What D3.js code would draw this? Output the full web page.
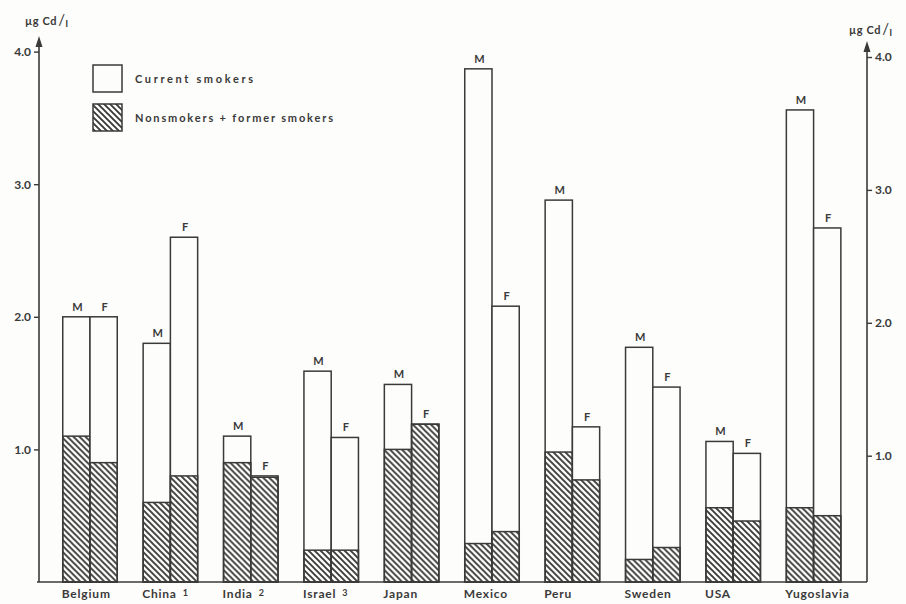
<!DOCTYPE html>
<html>
<head>
<meta charset="utf-8">
<script src="https://cdn.jsdelivr.net/npm/d3@7"></script>
<style>
  html, body { margin: 0; padding: 0; background: #fdfdfb; }
  svg { display: block; }
  text { font-family: Lato, "Open Sans", sans-serif; font-weight: 700; fill: #3a3a3a; }
</style>
</head>
<body>
<script>
// ---- data (µg Cd / l) ----
const countries = ["Belgium", "China", "India", "Israel", "Japan", "Mexico", "Peru", "Sweden", "USA", "Yugoslavia"];
const footnotes = ["", "1", "2", "3", "", "", "", "", "", ""];
const smokersM    = [2.00, 1.80, 1.10, 1.59, 1.49, 3.87, 2.88, 1.77, 1.06, 3.56];
const nonsmokersM = [1.10, 0.60, 0.90, 0.24, 1.00, 0.29, 0.98, 0.17, 0.56, 0.56];
const smokersF    = [2.00, 2.60, 0.80, 1.09, 1.19, 2.08, 1.17, 1.47, 0.97, 2.67];
const nonsmokersF = [0.90, 0.80, 0.79, 0.24, 1.19, 0.38, 0.77, 0.26, 0.46, 0.50];
const sexes = ["M", "F"];
const yTicks = [1, 2, 3, 4];
const legendLabels = ["Current smokers", "Nonsmokers + former smokers"];

const W = 906, H = 604;
const ink = "#3a3a3a";
const svg = d3.select("body").append("svg").attr("width", W).attr("height", H);

const defs = svg.append("defs");
const pat = defs.append("pattern").attr("id", "hatch")
  .attr("patternUnits", "userSpaceOnUse").attr("width", 6).attr("height", 6);
pat.append("path").attr("d", "M-1,-1 L7,7 M-4,2 L2,8 M4,-2 L8,2")
  .attr("stroke", ink).attr("stroke-width", 1.9).attr("fill", "none");

const baseY = 582;
const y = d3.scaleLinear().domain([0, 4]).range([baseY, 51.6]);
const yR = d3.scaleLinear().domain([0, 4]).range([588.6, 57]);
const x = d3.scaleBand().domain(countries).range([49.8, 853.8]).paddingInner(0.322).paddingOuter(0.161);
const xs = d3.scaleBand().domain(sexes).range([0, x.bandwidth()]);

// rows
const rows = countries.map((c, i) => ({
  c, i,
  bars: [
    { s: "M", sm: smokersM[i], ns: nonsmokersM[i] },
    { s: "F", sm: smokersF[i], ns: nonsmokersF[i] }
  ]
}));

const g = svg.append("g");
const grp = g.selectAll("g.grp").data(rows).join("g").attr("class", "grp")
  .attr("transform", d => `translate(${x(d.c)},0)`);

const bar = grp.selectAll("g.bar").data(d => d.bars).join("g").attr("class", "bar");
bar.append("rect")
  .attr("x", d => xs(d.s)).attr("width", xs.bandwidth())
  .attr("y", d => y(d.sm)).attr("height", d => baseY - y(d.sm))
  .attr("fill", "#fdfdfb").attr("stroke", ink).attr("stroke-width", 1.5);
bar.append("rect")
  .attr("x", d => xs(d.s)).attr("width", xs.bandwidth())
  .attr("y", d => y(d.ns)).attr("height", d => baseY - y(d.ns))
  .attr("fill", "url(#hatch)").attr("stroke", ink).attr("stroke-width", 1.5);
bar.append("text")
  .attr("x", d => xs(d.s) + xs.bandwidth() / 2 + 1)
  .attr("y", d => y(Math.max(d.sm, d.ns)) - 6)
  .attr("text-anchor", "middle").attr("font-size", 11)
  .text(d => d.s);

// country labels
const lab = grp.append("text").attr("x", -1).attr("y", 598).attr("font-size", 12).attr("letter-spacing", 0.8);
lab.append("tspan").text(d => d.c);
lab.append("tspan").attr("dx", 6).attr("dy", -2).attr("font-size", 9).text(d => footnotes[d.i]);

// baseline
svg.append("line").attr("x1", 37).attr("x2", 867).attr("y1", baseY).attr("y2", baseY)
  .attr("stroke", ink).attr("stroke-width", 1.6);

// left axis
const axL = svg.append("g").attr("transform", "translate(39,0)")
  .call(d3.axisLeft(y).tickValues(yTicks).tickFormat(d3.format(".1f")).tickSize(5).tickPadding(3));
axL.select(".domain").remove();
axL.selectAll(".tick line").attr("stroke", ink).attr("stroke-width", 1.4);
axL.selectAll(".tick text").attr("font-size", 12).attr("font-family", "Lato, sans-serif").attr("fill", ink).attr("font-weight", 700);
svg.append("line").attr("x1", 39).attr("x2", 39).attr("y1", baseY).attr("y2", 44)
  .attr("stroke", ink).attr("stroke-width", 1.6);
svg.append("path").attr("d", "M39,36 L35.5,47 L42.5,47 Z").attr("fill", ink);

// right axis
const axR = svg.append("g").attr("transform", "translate(867,0)")
  .call(d3.axisRight(yR).tickValues(yTicks).tickFormat(d3.format(".1f")).tickSize(5).tickPadding(3));
axR.select(".domain").remove();
axR.selectAll(".tick line").attr("stroke", ink).attr("stroke-width", 1.4);
axR.selectAll(".tick text").attr("font-size", 12).attr("font-family", "Lato, sans-serif").attr("fill", ink).attr("font-weight", 700);
svg.append("line").attr("x1", 867).attr("x2", 867).attr("y1", baseY).attr("y2", 49)
  .attr("stroke", ink).attr("stroke-width", 1.6);
svg.append("path").attr("d", "M867,41 L863.5,52 L870.5,52 Z").attr("fill", ink);

// unit titles
function unit(xp, yp) {
  const t = svg.append("text").attr("x", xp).attr("y", yp).attr("font-size", 11).attr("letter-spacing", 0.6);
  t.append("tspan").text("µg Cd");
  t.append("tspan").attr("dx", 1).attr("font-size", 15).attr("font-weight", 400).text("/");
  t.append("tspan").attr("dy", 2).attr("font-size", 10).text("l");
}
unit(25, 25);
unit(849, 34);

// legend
const leg = svg.append("g");
leg.append("rect").attr("x", 93).attr("y", 65).attr("width", 29).attr("height", 27)
  .attr("fill", "#fdfdfb").attr("stroke", ink).attr("stroke-width", 1.5);
leg.append("rect").attr("x", 93).attr("y", 104).attr("width", 29).attr("height", 27)
  .attr("fill", "url(#hatch)").attr("stroke", ink).attr("stroke-width", 1.5);
leg.append("text").attr("x", 135).attr("y", 83).attr("font-size", 11)
  .attr("textLength", 118).attr("lengthAdjust", "spacing").text(legendLabels[0]);
leg.append("text").attr("x", 135).attr("y", 122).attr("font-size", 11)
  .attr("textLength", 198).attr("lengthAdjust", "spacing").text(legendLabels[1]);
</script>
</body>
</html>
